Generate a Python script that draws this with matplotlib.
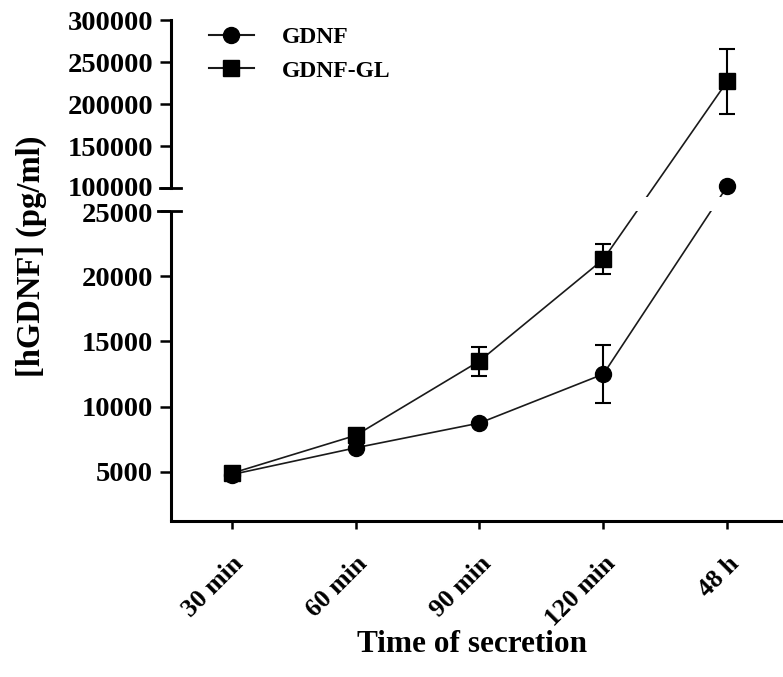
import numpy as np
import matplotlib
matplotlib.use("Agg")
import matplotlib.pyplot as plt
import matplotlib.transforms as mtransforms
from matplotlib.scale import FuncScale

# ---- data ----
categories = ["30 min", "60 min", "90 min", "120 min", "48 h"]
gdnf = [4800, 6850, 8750, 12500, 102000]
gdnf_err = [0, 0, 0, 2220, 0]
gdnf_gl = [4900, 7800, 13500, 21300, 227000]
gdnf_gl_err = [0, 0, 1110, 1150, 38500]
yticks = [5000, 10000, 15000, 20000, 25000, 100000, 150000, 200000, 250000, 300000]

# ---- broken-axis scale ----
YLOW, BRK_LO, BRK_HI, YTOP = 1243, 25000, 100000, 300000
T0, T1, T2, T3 = 0.0, 310.0, 333.0, 501.0
s_lo = (T1 - T0) / (BRK_LO - YLOW)
s_gap = (T2 - T1) / (BRK_HI - BRK_LO)
s_hi = (T3 - T2) / (YTOP - BRK_HI)

def fwd(y):
    y = np.asarray(y, dtype=float)
    return np.where(y <= BRK_LO, (y - YLOW) * s_lo,
           np.where(y <= BRK_HI, T1 + (y - BRK_LO) * s_gap,
                    T2 + (y - BRK_HI) * s_hi))

def inv(t):
    t = np.asarray(t, dtype=float)
    return np.where(t <= T1, YLOW + t / s_lo,
           np.where(t <= T2, BRK_LO + (t - T1) / s_gap,
                    BRK_HI + (t - T2) / s_hi))

serif = ["Liberation Serif", "DejaVu Serif"]
plt.rcParams["font.family"] = serif
plt.rcParams["font.weight"] = "bold"

W, H = 783, 677
fig = plt.figure(figsize=(W / 100, H / 100), dpi=100)
ax_l, ax_r, ax_b, ax_t = 171, 783, 521, 20
ax = fig.add_axes([ax_l / W, 1 - ax_b / H, (ax_r - ax_l) / W, (ax_b - ax_t) / H])
ax.set_yscale(FuncScale(ax, (fwd, inv)))
ax.set_ylim(YLOW, YTOP)
x = np.arange(len(categories))
ax.set_xlim(-0.49, 4.45)

lc = "#1a1a1a"
ax.plot(x, gdnf, color=lc, lw=1.2, zorder=2)
ax.plot(x, gdnf_gl, color=lc, lw=1.2, zorder=2)
ax.axhspan(BRK_LO, 70000, color="white", zorder=2.5, lw=0)
ax.errorbar(x, gdnf, yerr=gdnf_err, fmt="o", color="black", ms=11.5,
            capsize=6, elinewidth=1.5, capthick=1.5, zorder=3)
ax.errorbar(x, gdnf_gl, yerr=gdnf_gl_err, fmt="s", color="black", ms=11,
            capsize=6, elinewidth=1.5, capthick=1.5, zorder=3)

# legend proxies
h1, = ax.plot([], [], color=lc, lw=1.5, marker="o", ms=11.5, mfc="black", mec="black")
h2, = ax.plot([], [], color=lc, lw=1.5, marker="s", ms=11, mfc="black", mec="black")
leg = ax.legend([h1, h2], ["GDNF", "GDNF-GL"], loc="upper left",
                bbox_to_anchor=(197 / W, 1 - 15 / H), bbox_transform=fig.transFigure,
                frameon=False, borderpad=0, handlelength=1.9, handletextpad=1.2,
                labelspacing=0.5, prop={"family": serif, "weight": "bold", "size": 17})

# spines
for s in ["top", "right", "left"]:
    ax.spines[s].set_visible(False)
ax.spines["bottom"].set_linewidth(2.2)

tr = ax.get_yaxis_transform()
axw = ax_r - ax_l
ax.plot([0, 0], [YLOW, BRK_LO], transform=tr, color="black", lw=2.2, clip_on=False,
        solid_capstyle="butt", zorder=5)
ax.plot([0, 0], [BRK_HI, YTOP], transform=tr, color="black", lw=2.2, clip_on=False,
        solid_capstyle="projecting", zorder=5)
ax.plot([-13 / axw, 10 / axw], [BRK_LO, BRK_LO], transform=tr, color="black", lw=2.0,
        clip_on=False, zorder=5)
ax.plot([-11 / axw, 10 / axw], [BRK_HI, BRK_HI], transform=tr, color="black", lw=2.0,
        clip_on=False, zorder=5)

ax.set_yticks(yticks)
ax.set_yticklabels([str(v) for v in yticks])
ax.yaxis.set_minor_locator(matplotlib.ticker.NullLocator())
ax.tick_params(axis="y", length=8, width=1.8, pad=5, labelsize=20.5)
# nudge the two labels that sit at the break slightly apart
for lab in ax.get_yticklabels():
    t = lab.get_text()
    if t == "100000":
        lab.set_transform(lab.get_transform() +
                          mtransforms.ScaledTranslation(0, 2 / 100, fig.dpi_scale_trans))
    elif t == "25000":
        lab.set_transform(lab.get_transform() +
                          mtransforms.ScaledTranslation(0, -1 / 100, fig.dpi_scale_trans))

ax.set_xticks(x)
ax.set_xticklabels(categories, rotation=45, ha="right", va="center",
                   rotation_mode="anchor")
ax.tick_params(axis="x", length=6, width=1.8, pad=22, labelsize=18.5)
offset = mtransforms.ScaledTranslation(8 / 100, 0, fig.dpi_scale_trans)
for lab in ax.get_xticklabels():
    lab.set_transform(lab.get_transform() + offset)

ax.set_xlabel("Time of secretion", fontsize=22.5, fontweight="bold")
ax.xaxis.set_label_coords((472 - ax_l) / axw, -(630 - ax_b) / (ax_b - ax_t))
ax.set_ylabel("[hGDNF] (pg/ml)", fontsize=23.5, fontweight="bold")
ax.yaxis.set_label_coords(-(ax_l - 31) / axw, (ax_b - 256) / (ax_b - ax_t))
ax.yaxis.label.set_va("center")

fig.savefig("out.png", dpi=100)
